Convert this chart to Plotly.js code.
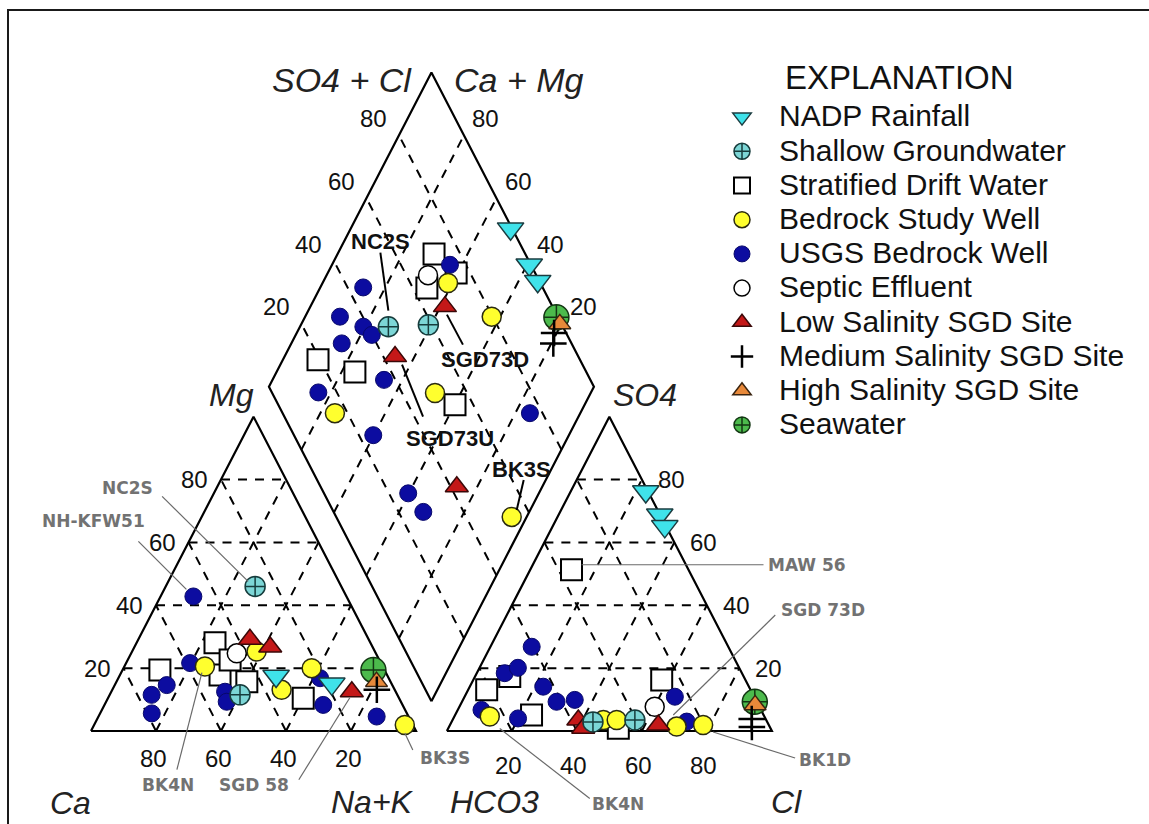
<!DOCTYPE html>
<html>
<head>
<meta charset="utf-8">
<script src="https://cdn.plot.ly/plotly-3.0.1.min.js"></script>
<style>html,body{margin:0;padding:0;background:#fff}</style>
</head>
<body>
<div id="chart" style="width:1149px;height:824px"></div>
<script>
// ---------------- Sample groups ----------------
const seriesKeys  = ['nadp','sgw','strat','bedrock','usgs','septic','low','medium','high','sea'];
const seriesNames = ['NADP Rainfall','Shallow Groundwater','Stratified Drift Water','Bedrock Study Well',
                     'USGS Bedrock Well','Septic Effluent','Low Salinity SGD Site','Medium Salinity SGD Site',
                     'High Salinity SGD Site','Seawater'];

// ---------------- Cation triangle (percent of total cations, meq/L) ----------------
const catSeries = ['sgw','sgw','usgs','usgs','usgs','usgs','usgs','usgs','usgs','usgs','usgs','usgs',
                   'low','low','low','bedrock','bedrock','bedrock','bedrock','bedrock','septic',
                   'strat','strat','strat','strat','strat','strat','nadp','nadp','sea','high','medium'];
const catMg  = [46, 11.5, 42.8, 21.6, 14.6, 11.5, 5.6, 12.5, 9.3, 8.3, 4.6, 16.8,
                29.2, 26.7, 12.5, 25.3, 20.5, 20, 13.1, 1.9, 24.7,
                28.1, 19.4, 17.8, 15.7, 10.4, 22.6, 17.5, 15, 19.4, 15.7, 13.1];
const catNaK = [27.5, 40.1, 10.1, 19.7, 16, 12.9, 15.9, 35, 37.1, 67.3, 85.6, 62.1,
                34.3, 41.8, 74, 38.3, 24.8, 57.9, 52.1, 95.6, 32.5,
                24.1, 11.5, 30.8, 40.1, 60.1, 31.5, 48.2, 66.6, 77.2, 80, 81.4];

// ---------------- Anion triangle (percent of total anions, meq/L) ----------------
const anSeries = ['nadp','nadp','nadp','strat','strat','strat','strat','strat','strat',
                  'usgs','usgs','usgs','usgs','usgs','usgs','usgs','usgs','usgs','usgs',
                  'bedrock','bedrock','bedrock','bedrock','bedrock','low','low','low',
                  'sgw','sgw','septic','sea','high','medium','medium'];
const anSO4 = [76.2, 68.8, 65.1, 51.3, 17.3, 13.1, 5.1, 16.2, 0.9,
               26.8, 18.4, 20.1, 14.1, 9.3, 9.9, 6.7, 4, 10.9, 3,
               4.6, 3.5, 3.5, 1.4, 1.9, 3.5, 0.9, 1.9,
               3.5, 2.9, 7.7, 9.3, 8.3, 3.8, 1.3];
const anCl  = [23.1, 31.1, 34.5, 12.7, 10.7, 5.7, 23.5, 58, 52.3,
               12.7, 8.6, 11.8, 22.6, 29.1, 34.4, 7.3, 19.9, 64.7, 72.3,
               10.9, 46.4, 50.5, 70, 77.9, 38.7, 41.5, 64.1,
               56.1, 43.5, 60.1, 90.1, 90.7, 91.9, 93.2];

// ---------------- Central diamond ----------------
const dmSeries = ['nadp','nadp','nadp','strat','strat','strat','strat','strat','strat','septic',
                  'usgs','usgs','usgs','usgs','usgs','usgs','usgs','usgs','usgs','usgs','usgs','usgs',
                  'bedrock','bedrock','bedrock','bedrock','bedrock','low','low','low',
                  'sgw','sgw','sea','high','medium','medium'];
const dmCaMg  = [50.8, 39.3, 34.1, 70.3, 60.5, 67.1, 89.2, 75.9, 39.9, 68.8,
                 63.7, 86.8, 89.3, 80.5, 76.6, 84.5, 65.7, 83.9, 15.5, 60.2, 40.2, 32.6,
                 61.4, 42.6, 47.9, 75.5, 4.6, 58.6, 66, 26.3,
                 72.8, 60.8, 22.6, 20.5, 20.8, 19.4];
const dmSO4Cl = [99.5, 99.5, 99.5, 71.9, 75.7, 64.3, 19.4, 28.8, 54.4, 66.7,
                 75.1, 44.8, 33, 38.6, 39.9, 29.3, 36.5, 14.3, 76.1, 24.4, 25.9, 27.6,
                 71.6, 79.7, 50.1, 16.1, 54, 66.9, 43.6, 41.9,
                 46.3, 58.9, 99.5, 99.5, 96.3, 94.4];

const gridVals = [20, 40, 60, 80];

// ---------------- Piper geometry (triangle side = 100 units) ----------------
const GAP = 9.5;
const S3 = Math.sqrt(3) / 2;
const catXY = (mg, nak) => [nak + mg / 2, mg * S3];
const anXY  = (so4, cl) => [100 + GAP + cl + so4 / 2, so4 * S3];
const BX = 100 + GAP / 2, BY = GAP * S3;
const dmXY  = (camg, so4cl) => [BX + (so4cl - camg) / 2, BY + (camg + so4cl) * S3];

// ---------------- Marker styles ----------------
const styles = {
  nadp:    {symbol:'triangle-down',  size:23, color:'#3fe2ea', line:'#1b3c40', lw:1.5},
  sgw:     {symbol:'circle-cross',   size:20, color:'#7cd6d6', line:'#163c3c', lw:1.5},
  strat:   {symbol:'square',         size:21, color:'#ffffff', line:'#000000', lw:2},
  bedrock: {symbol:'circle',         size:19, color:'#ffff2e', line:'#2b2b10', lw:1.5},
  usgs:    {symbol:'circle',         size:17, color:'#0c0ca0', line:'#08086a', lw:1},
  septic:  {symbol:'circle',         size:19, color:'#ffffff', line:'#000000', lw:1.5},
  low:     {symbol:'triangle-up',    size:20, color:'#c41818', line:'#3a0808', lw:1.5},
  medium:  {symbol:'cross-thin-open',size:19, color:'#000000', line:'#000000', lw:2.5},
  high:    {symbol:'triangle-up',    size:19, color:'#e8893a', line:'#3a2410', lw:1.5},
  sea:     {symbol:'circle-cross',   size:25, color:'#4cba4c', line:'#123612', lw:1.5}
};
const drawOrder = ['strat','usgs','septic','bedrock','low','sgw','nadp','sea','high','medium'];

const traces = [];

// dashed grid
const gx = [], gy = [];
function seg(p, q) { gx.push(p[0], q[0], null); gy.push(p[1], q[1], null); }
gridVals.forEach(k => {
  seg(catXY(k, 0), catXY(k, 100 - k));          // Mg
  seg(catXY(0, k), catXY(100 - k, k));          // Na+K
  seg(catXY(0, 100 - k), catXY(100 - k, 0));    // Ca
  seg(anXY(k, 0), anXY(k, 100 - k));            // SO4
  seg(anXY(0, k), anXY(100 - k, k));            // Cl
  seg(anXY(0, 100 - k), anXY(100 - k, 0));      // HCO3
  seg(dmXY(k, 0), dmXY(k, 100));                // Ca+Mg
  seg(dmXY(0, k), dmXY(100, k));                // SO4+Cl
});
traces.push({type:'scatter', mode:'lines', x:gx, y:gy, showlegend:false, hoverinfo:'skip',
             line:{color:'#000', width:2, dash:'9px,8px'}});

// outlines
const ox = [], oy = [];
function poly(pts) { pts.forEach(p => { ox.push(p[0]); oy.push(p[1]); }); ox.push(null); oy.push(null); }
poly([catXY(0,0), catXY(0,100), catXY(100,0), catXY(0,0)]);
poly([anXY(0,0), anXY(0,100), anXY(100,0), anXY(0,0)]);
poly([dmXY(0,0), dmXY(100,0), dmXY(100,100), dmXY(0,100), dmXY(0,0)]);
traces.push({type:'scatter', mode:'lines', x:ox, y:oy, showlegend:false, hoverinfo:'skip',
             line:{color:'#000', width:2.2}});

// samples
drawOrder.forEach(k => {
  const xs = [], ys = [];
  catSeries.forEach((s, i) => { if (s === k) { const p = catXY(catMg[i], catNaK[i]); xs.push(p[0]); ys.push(p[1]); } });
  anSeries.forEach((s, i)  => { if (s === k) { const p = anXY(anSO4[i], anCl[i]);    xs.push(p[0]); ys.push(p[1]); } });
  dmSeries.forEach((s, i)  => { if (s === k) { const p = dmXY(dmCaMg[i], dmSO4Cl[i]); xs.push(p[0]); ys.push(p[1]); } });
  const st = styles[k];
  const idx = seriesKeys.indexOf(k);
  traces.push({
    type:'scatter', mode:'markers', x:xs, y:ys, cliponaxis:false,
    name:'<span style="font-size:30px">' + seriesNames[idx] + '</span>',
    legendrank: idx + 1,
    marker:{symbol:st.symbol, size:st.size, color:st.color, line:{color:st.line, width:st.lw}}
  });
});

// ---------------- Text ----------------
const annotations = [];
const shapes = [];
const FONT = 'Liberation Sans, Arial, sans-serif';
function txt(p, text, opts) {
  annotations.push(Object.assign({x:p[0], y:p[1], xref:'x', yref:'y', text:text, showarrow:false,
    xanchor:'center', yanchor:'middle', font:{family:FONT, size:24, color:'#111'}}, opts));
}

// tick labels
gridVals.forEach(k => {
  txt(catXY(k, 0), String(k), {xanchor:'right', xshift:-11});
  txt(catXY(0, k), String(100 - k), {xshift:-3, yshift:-27});
  txt(anXY(k, 100 - k), String(k), {xanchor:'left', xshift:14});
  txt(anXY(0, k), String(k), {xshift:-3, yshift:-34});
  txt(dmXY(100, k), String(k), {xshift:-25, yshift:17});
  txt(dmXY(k, 100), String(k), {xshift:22, yshift:17});
});

// axis names
const axFont = {family:FONT, size:32, color:'#222', style:'italic'};
const topFont = {family:FONT, size:34, color:'#222', style:'italic'};
txt(catXY(0, 0),     'Ca',   {xshift:-21, yshift:-72, font:axFont});
txt(catXY(0, 100),   'Na+K', {xshift:-44, yshift:-71, font:axFont});
txt(catXY(100, 0),   'Mg',   {xshift:-22, yshift:22, font:axFont});
txt(anXY(0, 0),      'HCO3', {xshift:48, yshift:-71, font:axFont});
txt(anXY(0, 100),    'Cl',   {xshift:15, yshift:-71, font:axFont});
txt(anXY(100, 0),    'SO4',  {xshift:36, yshift:22, font:axFont});
txt(dmXY(100, 100),  'SO4 + Cl', {xanchor:'right', xshift:-17, yshift:-8, font:topFont});
txt(dmXY(100, 100),  'Ca + Mg',  {xanchor:'left', xshift:21, yshift:-8, font:topFont});

// sample callouts: offsets in pixels from the sample (y down)
const grayFont = {family:'DejaVu Sans, sans-serif', size:17, color:'#727272', weight:'bold'};
const boldFont = {family:FONT, size:22, color:'#111', weight:'bold'};
const callouts = [
  {text:'NC2S',     panel:'cat', i:0,  t:[-128,-98], a:[-7,-5],  b:[-93,-90], f:'gray'},
  {text:'NH-KFW51', panel:'cat', i:2,  t:[-100,-75], a:[-7,-7],  b:[-55,-55], f:'gray'},
  {text:'BK4N',     panel:'cat', i:16, t:[-37,118],  a:[-3,6],   b:[-28,103], f:'gray'},
  {text:'SGD 58',   panel:'cat', i:14, t:[-98,93],   a:[-2,6],   b:[-53,88],  f:'gray'},
  {text:'BK3S',     panel:'cat', i:19, t:[40,33],    a:[0,8],    b:[8,25],    f:'gray'},
  {text:'MAW 56',   panel:'an',  i:3,  t:[235,-5],   a:[10,-5],  b:[192,-5],  f:'gray'},
  {text:'SGD 73D',  panel:'an',  i:26, t:[165,-115], a:[15,-10], b:[117,-110],f:'gray'},
  {text:'BK1D',     panel:'an',  i:23, t:[122,35],   a:[10,7],   b:[92,33],   f:'gray'},
  {text:'BK4N',     panel:'an',  i:19, t:[128,87],   a:[10,12],  b:[100,82],  f:'gray'},
  {text:'NC2S',     panel:'dm',  i:30, t:[-8,-85],   a:[0,-16],  b:[-8,-74],  f:'bold'},
  {text:'SGD73D',   panel:'dm',  i:27, t:[40,53],    a:[2,8],    b:[18,38],   f:'bold'},
  {text:'SGD73U',   panel:'dm',  i:28, t:[55,82],    a:[7,8],    b:[28,60],   f:'bold'},
  {text:'BK3S',     panel:'dm',  i:26, t:[10,-47],   a:[5,-7],   b:[12,-37],  f:'bold'}
];
callouts.forEach(c => {
  const p = c.panel === 'cat' ? catXY(catMg[c.i], catNaK[c.i])
          : c.panel === 'an'  ? anXY(anSO4[c.i], anCl[c.i])
          : dmXY(dmCaMg[c.i], dmSO4Cl[c.i]);
  const gray = c.f === 'gray';
  txt(p, c.text, {xshift:c.t[0], yshift:-c.t[1], font: gray ? grayFont : boldFont});
  shapes.push({type:'line', xref:'x', yref:'y', xsizemode:'pixel', ysizemode:'pixel',
    xanchor:p[0], yanchor:p[1], x0:c.a[0], y0:-c.a[1], x1:c.b[0], y1:-c.b[1],
    line:{color: gray ? '#6a6a6a' : '#000', width: gray ? 1.2 : 2}});
});

// legend heading
annotations.push({xref:'paper', yref:'paper', x:783/1149, y:1 - 77/824, xanchor:'left', yanchor:'middle',
  text:'EXPLANATION', showarrow:false, font:{family:FONT, size:33, color:'#111'}});

// outer frame (top and left edges fall inside the page)
shapes.push({type:'rect', xref:'paper', yref:'paper', x0:8/1149, x1:1.02, y0:-0.02, y1:1 - 10/824,
  line:{color:'#1a1a1a', width:2}});

const layout = {
  width:1149, height:824,
  margin:{l:0, r:0, t:0, b:0},
  paper_bgcolor:'#fff', plot_bgcolor:'#fff',
  xaxis:{range:[-28, 325.54], visible:false, fixedrange:true},
  yaxis:{range:[-25.62, 201.38], visible:false, fixedrange:true},
  showlegend:true,
  legend:{x:705/1149, xanchor:'left', y:1 - 95/824, yanchor:'top', itemwidth:64,
          font:{family:FONT, size:24, color:'#111'}, bgcolor:'rgba(0,0,0,0)', borderwidth:0,
          tracegroupgap:0, itemclick:false},
  annotations:annotations,
  shapes:shapes
};

Plotly.newPlot('chart', traces, layout, {displayModeBar:false, staticPlot:true});
</script>
</body>
</html>
